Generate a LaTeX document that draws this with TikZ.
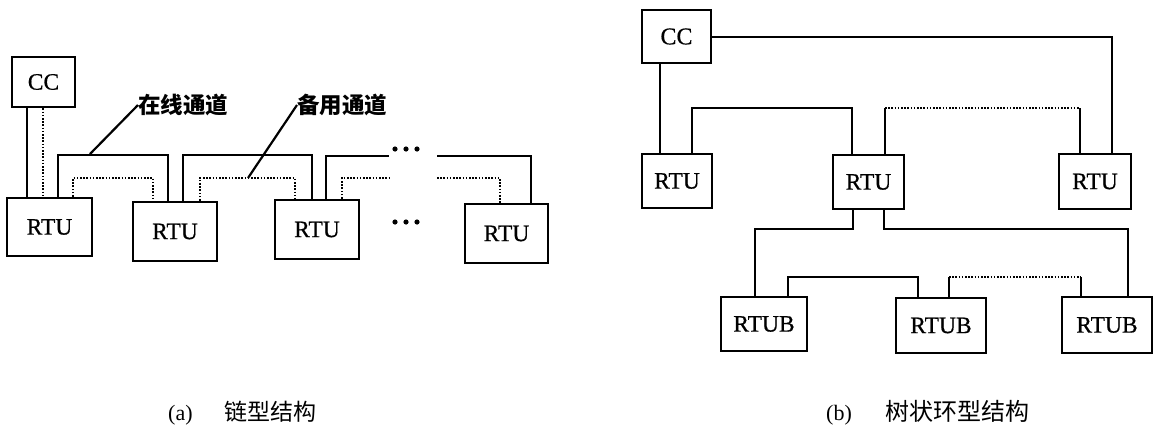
\documentclass[tikz,border=0pt]{standalone}
\usepackage{fontspec}
\setmainfont{Liberation Serif}
\newfontfamily\boxfont{Liberation Serif}[FakeBold=0.6]
\newfontfamily\cjk{Noto Sans CJK SC}
\begin{document}
\begin{tikzpicture}[x=1pt,y=-1pt,
  box/.style={draw,line width=2.8pt,inner sep=0pt,font=\boxfont\fontsize{23.5}{24}\selectfont},
  online/.style={line width=2.8pt},
  backup/.style={line width=1.7pt,dash pattern=on 1.6pt off 1.6pt},
  leader/.style={line width=2.2pt},
  lbl/.style={font=\cjk\bfseries\fontsize{22.5}{24}\selectfont,inner sep=0pt,anchor=west},
  captxt/.style={font=\fontsize{22}{24}\selectfont,inner sep=0pt,anchor=west},
  dotfill/.style={fill=black,draw=none}]
\useasboundingbox (0,0) rectangle (1162,426);
% ---- (a) chain ----
\node[box,minimum width=63pt,minimum height=50pt] (cc1) at (43.5,82) {CC};
\node[box,minimum width=85pt,minimum height=58pt] (r1) at (49.5,227) {RTU};
\node[box,minimum width=84pt,minimum height=59pt] (r2) at (175,231.5) {RTU};
\node[box,minimum width=84pt,minimum height=59pt] (r3) at (317,229.5) {RTU};
\node[box,minimum width=83pt,minimum height=59pt] (r4) at (506.5,233.5) {RTU};
\draw[online] (cc1.south -| 27,0) -- (r1.north -| 27,0);
\draw[backup] (cc1.south -| 43,0) -- (r1.north -| 43,0);
\draw[online] (r1.north -| 58,0) |- (168,155) -- (r2.north -| 168,0);
\draw[backup] (r1.north -| 73,0) |- (153,178) -- (r2.north -| 153,0);
\draw[online] (r2.north -| 183,0) |- (312,155) -- (r3.north -| 312,0);
\draw[backup] (r2.north -| 200,0) |- (295,178) -- (r3.north -| 295,0);
\coordinate (e1) at (389,156);
\coordinate (e2) at (390,178);
\coordinate (s1) at (437,156);
\coordinate (s2) at (437,178);
\draw[online] (r3.north -| 326,0) |- (e1);
\draw[backup] (r3.north -| 342,0) |- (e2);
\draw[online] (s1) -| (r4.north -| 531,0);
\draw[backup] (s2) -| (r4.north -| 500,0);
\foreach \x in {395,406,417} {
  \fill[dotfill] (\x,149) circle (2.6pt);
  \fill[dotfill] (\x,222) circle (2.6pt);
}
\node[lbl] (l1) at (138,105) {在线通道};
\node[lbl] (l2) at (297,105) {备用通道};
\coordinate (p1) at (90,154);
\coordinate (p2) at (248,178);
\draw[leader] (p1) -- (l1.west);
\draw[leader] (p2) -- (l2.west);
\node[captxt] (capa) at (168,413) {(a)\hspace{32pt}{\cjk\fontsize{23}{24}\selectfont 链型结构}};
% ---- (b) tree ring ----
\node[box,minimum width=69pt,minimum height=53pt,font=\boxfont\fontsize{24}{24}\selectfont] (cc2) at (676.5,36.5) {CC};
\node[box,minimum width=70pt,minimum height=54pt] (rl) at (677,181) {RTU};
\node[box,minimum width=71pt,minimum height=54pt] (rm) at (868.5,182) {RTU};
\node[box,minimum width=72pt,minimum height=55pt] (rr) at (1095,181.5) {RTU};
\node[box,minimum width=86pt,minimum height=54pt] (b1) at (764,324) {RTUB};
\node[box,minimum width=90pt,minimum height=55pt] (b2) at (941,325.5) {RTUB};
\node[box,minimum width=90pt,minimum height=56pt] (b3) at (1107,325) {RTUB};
\draw[online] (cc2.east |- 0,37) -| (rr.north -| 1112,0);
\draw[online] (cc2.south -| 660,0) -- (rl.north -| 660,0);
\draw[online] (rl.north -| 692,0) |- (852,108) -- (rm.north -| 852,0);
\draw[online] (rm.north -| 885,0) -- (885,108);
\draw[backup] (885,108) -- (1080,108);
\draw[online] (1080,108) -- (rr.north -| 1080,0);
\draw[online] (rm.south -| 853,0) |- (755,229) -- (b1.north -| 755,0);
\draw[online] (rm.south -| 884,0) |- (1128,229) -- (b3.north -| 1128,0);
\draw[online] (b1.north -| 788,0) |- (918,277) -- (b2.north -| 918,0);
\draw[online] (b2.north -| 949,0) -- (949,277);
\draw[backup] (949,277) -- (1081,277);
\draw[online] (1081,277) -- (b3.north -| 1081,0);
\node[captxt] (capb) at (826,413) {(b)\hspace{34pt}{\cjk\fontsize{24}{24}\selectfont 树状环型结构}};
\end{tikzpicture}
\end{document}
